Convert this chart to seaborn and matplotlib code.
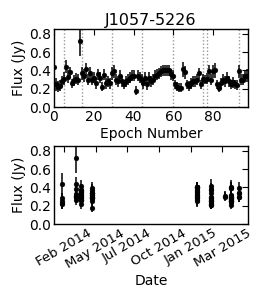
import numpy as np
import pandas as pd
import matplotlib
matplotlib.use("Agg")
import matplotlib.pyplot as plt
import matplotlib.dates as mdates
import matplotlib.ticker as mticker
import seaborn as sns

# flux per epoch (Jy)
flux = [0.44, 0.25, 0.22, 0.23, 0.28,
        0.31, 0.44, 0.33, 0.38, 0.26, 0.29, 0.31, 0.30, 0.72,
        0.37, 0.34, 0.41, 0.30, 0.37, 0.30, 0.32, 0.26, 0.36, 0.32, 0.22, 0.35, 0.26, 0.28, 0.26,
        0.37, 0.39, 0.30, 0.28, 0.34, 0.28, 0.25, 0.28, 0.30, 0.32, 0.34, 0.34, 0.18, 0.34, 0.32,
        0.30, 0.26, 0.32, 0.25, 0.32, 0.28, 0.30, 0.34, 0.35, 0.37, 0.39, 0.40, 0.40, 0.40, 0.40, 0.36,
        0.34, 0.25, 0.22, 0.21, 0.21, 0.41, 0.38, 0.25, 0.23, 0.26, 0.28, 0.28, 0.30, 0.37, 0.25,
        0.31, 0.30,
        0.31, 0.39, 0.30, 0.39, 0.40, 0.25, 0.21, 0.26, 0.30, 0.28, 0.32, 0.28, 0.25, 0.27, 0.25, 0.24,
        0.39, 0.30, 0.30, 0.34, 0.34]

flux_err = [0.12, 0.07, 0.06, 0.06, 0.06,
            0.07, 0.07, 0.07, 0.06, 0.05, 0.06, 0.06, 0.06, 0.16,
            0.07, 0.07, 0.07, 0.06, 0.07, 0.06, 0.06, 0.06, 0.06, 0.06, 0.05, 0.06, 0.06, 0.06, 0.06,
            0.07, 0.07, 0.06, 0.06, 0.06, 0.06, 0.05, 0.06, 0.06, 0.06, 0.06, 0.06, 0.05, 0.06, 0.06,
            0.06, 0.06, 0.06, 0.06, 0.06, 0.06, 0.06, 0.06, 0.06, 0.06, 0.06, 0.06, 0.06, 0.06, 0.06, 0.06,
            0.06, 0.05, 0.05, 0.05, 0.05, 0.08, 0.07, 0.05, 0.05, 0.06, 0.06, 0.06, 0.06, 0.06, 0.05,
            0.05, 0.05,
            0.06, 0.07, 0.06, 0.07, 0.08, 0.05, 0.05, 0.06, 0.06, 0.06, 0.06, 0.06, 0.05, 0.06, 0.05, 0.05,
            0.07, 0.06, 0.06, 0.06, 0.07]

# first epoch of each observing session and its date
session_start = [0, 5, 14, 29, 44, 60, 75, 77, 93]
session_dates = ["2014-02-14", "2014-03-20", "2014-04-02", "2014-04-30",
                 "2015-01-21", "2015-02-25", "2015-03-31", "2015-04-15", "2015-05-06"]
date_ticks = ["2014-02-18", "2014-05-09", "2014-07-28", "2014-10-16",
              "2015-01-04", "2015-03-25"]

epoch = np.arange(len(flux))
sess = np.searchsorted(session_start, epoch, side="right") - 1
df = pd.DataFrame({"epoch": epoch, "flux": flux, "err": flux_err,
                   "date": pd.to_datetime(np.array(session_dates)[sess])})

sns.set_style("white")
plt.rcParams["font.family"] = ["DejaVu Sans"]
plt.rcParams["font.size"] = 10
plt.rcParams["text.color"] = "k"
plt.rcParams["axes.labelcolor"] = "k"

fig = plt.figure(figsize=(2.63, 3.0), dpi=100)
ax1 = fig.add_axes([0.205, 0.643, 0.738, 0.260])
ax2 = fig.add_axes([0.205, 0.253, 0.738, 0.260])

# top: light curve vs epoch
for s in session_start[1:]:
    ax1.axvline(s, color="0.6", ls=(0, (1, 1.5)), lw=1, zorder=0)
ax1.errorbar(df["epoch"], df["flux"], yerr=df["err"], fmt="none",
             ecolor="k", elinewidth=1.1, capsize=0)
sns.scatterplot(data=df, x="epoch", y="flux", ax=ax1, color="k", s=12,
                edgecolor="k", linewidth=0.3, zorder=3)
ax1.set_xlim(0, 97.5)
ax1.set_ylim(0, 0.85)
ax1.xaxis.set_major_locator(mticker.MultipleLocator(20))
ax1.set_xlabel("Epoch Number", fontsize=10, labelpad=2)
ax1.set_ylabel("Flux (Jy)", fontsize=10, labelpad=2)
ax1.set_title("J1057-5226", fontsize=11.5, pad=3)

# bottom: same fluxes vs observation date
ax2.errorbar(df["date"], df["flux"], yerr=df["err"], fmt="none",
             ecolor="k", elinewidth=1.1, capsize=0)
sns.scatterplot(data=df, x="date", y="flux", ax=ax2, color="k", s=12,
                edgecolor="k", linewidth=0.3, zorder=3)
ax2.set_xlim(pd.Timestamp("2014-01-24"), pd.Timestamp("2015-05-29"))
ax2.set_ylim(0, 0.85)
ax2.set_xticks(pd.to_datetime(date_ticks))
ax2.xaxis.set_major_formatter(mdates.DateFormatter("%b %Y"))
for lab in ax2.get_xticklabels():
    lab.set_rotation(30)
    lab.set_ha("center")
    lab.set_fontsize(9.5)
ax2.set_xlabel("Date", fontsize=10, labelpad=2)
ax2.set_ylabel("Flux (Jy)", fontsize=10, labelpad=2)

for ax in (ax1, ax2):
    ax.yaxis.set_major_locator(mticker.MultipleLocator(0.2))
    ax.yaxis.set_major_formatter(mticker.FormatStrFormatter("%.1f"))
    ax.tick_params(direction="in", top=True, right=True, length=4, width=0.8,
                   pad=2, colors="k")
    ax.tick_params(axis="y", labelsize=10)
    for sp in ax.spines.values():
        sp.set_color("k")
        sp.set_linewidth(1)
ax1.tick_params(axis="x", labelsize=10)

fig.savefig("out.png", dpi=100)
